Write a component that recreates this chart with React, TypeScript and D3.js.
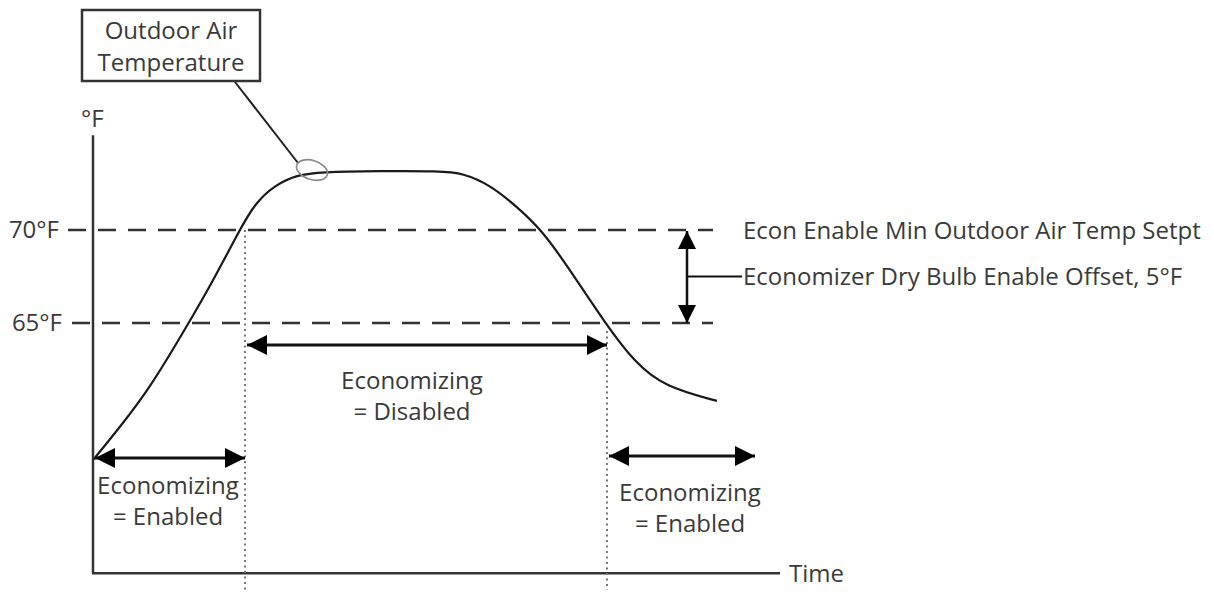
import React from "react";
import * as d3 from "d3";

// Time (arbitrary units) and outdoor air temperature (°F)
const timeValues = [0, 27, 57, 94, 120, 145, 162, 182, 204, 227, 287, 347, 370, 397, 422, 449, 477, 512, 542, 572, 624];
const tempValues = [57.63, 59.41, 61.51, 64.84, 67.26, 69.84, 71.45, 72.42, 72.96, 73.12, 73.17, 73.17, 73.06, 72.42, 71.34, 70.0, 67.85, 65.0, 62.85, 61.56, 60.81];

const setpoints = [70, 65];
const setpointLabels = ["70°F", "65°F"];
const enableStart = 152; // dotted line where economizing disables
const enableEnd = 514; // dotted line where economizing re-enables
const timeMax = 687;
const tempMin = 51.55;
const tempMax = 75.1;

const W = 1214;
const H = 592;

export default function App() {
  const x = d3.scaleLinear().domain([0, timeMax]).range([93, 780]);
  const y = d3.scaleLinear().domain([65, 70]).range([323, 230]);

  const pts: [number, number][] = timeValues.map((t, i) => [t, tempValues[i]]);
  const line = d3
    .line<[number, number]>()
    .x((d) => x(d[0]))
    .y((d) => y(d[1]))
    .curve(d3.curveBasis);

  const font = "'Open Sans', 'Noto Sans', sans-serif";
  const fs = 24;
  const textColor = "#3a3a3a";
  const ink = "#1a1a1a";

  const yOffset = (y(70) + y(65)) / 2;

  return (
    <svg
      width={W}
      height={H}
      style={{ position: "absolute", left: 0, top: 0, background: "#fff" }}
      fontFamily={font}
    >
      <defs>
        <marker id="ah" viewBox="0 0 20 20" refX="20" refY="10" markerWidth="20" markerHeight="20" markerUnits="userSpaceOnUse" orient="auto-start-reverse">
          <path d="M0,0 L20,10 L0,20 Z" fill="#000" />
        </marker>
        <marker id="ah2" viewBox="0 0 18 18" refX="18" refY="9" markerWidth="18" markerHeight="18" markerUnits="userSpaceOnUse" orient="auto-start-reverse">
          <path d="M0,0 L18,9 L0,18 Z" fill="#000" />
        </marker>
      </defs>

      {/* Axes */}
      <line x1={x(0)} y1={y(tempMax)} x2={x(0)} y2={y(tempMin)} stroke="#333" strokeWidth={2.5} />
      <line x1={x(0) - 1} y1={y(tempMin)} x2={x(timeMax)} y2={y(tempMin)} stroke="#333" strokeWidth={2.5} />
      <text x={x(0) - 12} y={y(tempMax) - 8} fontSize={fs} fill={textColor}>°F</text>
      <text x={x(timeMax) + 9} y={y(tempMin)} dy="0.36em" fontSize={fs} fill={textColor}>Time</text>

      {/* Setpoint dashed lines */}
      {setpoints.map((s, i) => (
        <g key={s}>
          <line x1={68 + i * 4} x2={713} y1={y(s)} y2={y(s)} stroke="#333" strokeWidth={2.5} strokeDasharray="18,12" />
          <text x={59 + i * 3} y={y(s)} dy="0.34em" textAnchor="end" fontSize={fs} fill={textColor}>{setpointLabels[i]}</text>
        </g>
      ))}

      {/* Dotted verticals */}
      <line x1={x(enableStart)} x2={x(enableStart)} y1={y(70)} y2={590} stroke="#777" strokeWidth={2} strokeDasharray="2,3.5" />
      <line x1={x(enableEnd)} x2={x(enableEnd)} y1={y(65) + 8} y2={590} stroke="#777" strokeWidth={2} strokeDasharray="2,3.5" />

      {/* OAT curve */}
      <path d={line(pts) ?? ""} fill="none" stroke={ink} strokeWidth={2.2} />

      {/* Label box and leader */}
      <rect x={82} y={10} width={178} height={71} fill="#fff" stroke="#333" strokeWidth={2.5} />
      <text x={171} y={30} dy="0.36em" textAnchor="middle" fontSize={fs} fill={textColor}>Outdoor Air</text>
      <text x={171} y={62} dy="0.36em" textAnchor="middle" fontSize={fs} fill={textColor}>Temperature</text>
      <line x1={235} y1={82} x2={298} y2={163} stroke="#222" strokeWidth={2} />
      <ellipse cx={312} cy={170} rx={16} ry={9.5} fill="none" stroke="#8a8a8a" strokeWidth={1.6} transform="rotate(18 312 170)" />

      {/* Disabled arrow */}
      <line x1={x(enableStart) + 2} x2={x(enableEnd)} y1={345} y2={345} stroke="#111" strokeWidth={3} markerStart="url(#ah)" markerEnd="url(#ah)" />
      <text x={412} y={380} dy="0.36em" textAnchor="middle" fontSize={fs} fill={textColor}>Economizing</text>
      <text x={412} y={411} dy="0.36em" textAnchor="middle" fontSize={fs} fill={textColor}>= Disabled</text>

      {/* Enabled arrows */}
      <line x1={x(0) + 2} x2={x(enableStart)} y1={458} y2={458} stroke="#111" strokeWidth={3} markerStart="url(#ah)" markerEnd="url(#ah)" />
      <text x={168} y={485} dy="0.36em" textAnchor="middle" fontSize={fs} fill={textColor}>Economizing</text>
      <text x={168} y={516} dy="0.36em" textAnchor="middle" fontSize={fs} fill={textColor}>= Enabled</text>

      <line x1={x(enableEnd) + 2} x2={755} y1={456} y2={456} stroke="#111" strokeWidth={3} markerStart="url(#ah)" markerEnd="url(#ah)" />
      <text x={690} y={492} dy="0.36em" textAnchor="middle" fontSize={fs} fill={textColor}>Economizing</text>
      <text x={690} y={523} dy="0.36em" textAnchor="middle" fontSize={fs} fill={textColor}>= Enabled</text>

      {/* Offset arrow */}
      <line x1={687} x2={687} y1={y(70) + 1} y2={y(65)} stroke="#111" strokeWidth={2.5} markerStart="url(#ah2)" markerEnd="url(#ah2)" />
      <line x1={687} x2={742} y1={yOffset} y2={yOffset} stroke="#111" strokeWidth={2} />
      <text x={743} y={y(70)} dy="0.36em" fontSize={fs} fill={textColor}>Econ Enable Min Outdoor Air Temp Setpt</text>
      <text x={743} y={yOffset} dy="0.36em" fontSize={fs} fill={textColor}>Economizer Dry Bulb Enable Offset, 5°F</text>
    </svg>
  );
}
